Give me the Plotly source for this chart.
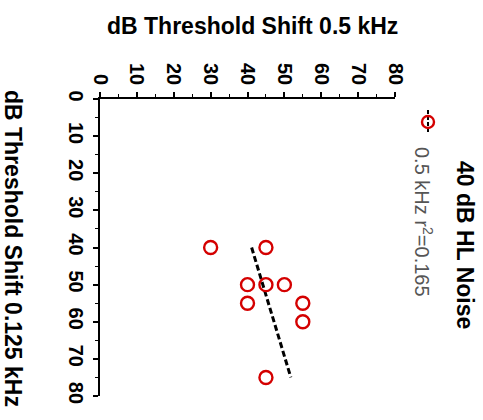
import numpy as np
import plotly.graph_objects as go

# Data: threshold shifts (dB) for 40 dB HL noise
thr_0125 = [40, 40, 50, 50, 50, 55, 55, 60, 75]   # 0.125 kHz (vertical axis)
thr_05 = [30, 45, 40, 45, 50, 40, 55, 55, 45]     # 0.5 kHz (horizontal axis)
tick_vals = [0, 10, 20, 30, 40, 50, 60, 70, 80]
legend_title = "40 dB HL Noise"
series_name = "0.5 kHz r<sup>2</sup>=0.165"

x = np.array(thr_0125, dtype=float)
y = np.array(thr_05, dtype=float)
slope, intercept = np.polyfit(x, y, 1)
fit_x = np.array([x.min(), x.max()])
fit_y = slope * fit_x + intercept

RED = "#d40000"
FONT = "Liberation Sans, Arial, sans-serif"

fig = go.Figure()
fig.add_trace(go.Scatter(
    x=fit_y, y=fit_x, mode="lines",
    line=dict(color="black", width=3, dash="6px,3px"),
    showlegend=False, hoverinfo="skip"))
fig.add_trace(go.Scatter(
    x=thr_05, y=thr_0125, mode="markers",
    marker=dict(symbol="circle-open", size=13, color=RED, line=dict(width=2.4, color=RED)),
    showlegend=False))

axis_common = dict(
    tickvals=tick_vals, ticktext=["<b>%d</b>" % v for v in tick_vals],
    showline=True, linecolor="black", linewidth=1.6,
    ticks="outside", ticklen=5, tickwidth=1.6, tickcolor="black",
    minor=dict(dtick=5, ticks="outside", ticklen=3, tickwidth=1.3, tickcolor="black"),
    showgrid=False, zeroline=False, tickangle=90,
    tickfont=dict(family=FONT, size=20, color="black"),
)
fig.update_xaxes(**axis_common)
fig.update_xaxes(range=[0, 80], side="top")
fig.update_yaxes(**axis_common)
fig.update_yaxes(range=[80, 0])

L, T, W, H = 100, 99, 295, 297
FW, FH = 483, 420

def px(xp, yp):
    return (xp - L) / W, (T + H - yp) / H

annotations = []
ax_, ay_ = px(252, 26)
annotations.append(dict(text="<b>dB Threshold Shift 0.5 kHz</b>", x=ax_, y=ay_, xref="paper", yref="paper",
                        showarrow=False, font=dict(family=FONT, size=23, color="black"),
                        xanchor="center", yanchor="middle"))
ax_, ay_ = px(13, 248)
annotations.append(dict(text="<b>dB Threshold Shift 0.125 kHz</b>", x=ax_, y=ay_, xref="paper", yref="paper",
                        showarrow=False, textangle=90, font=dict(family=FONT, size=23, color="black"),
                        xanchor="center", yanchor="middle"))
ax_, ay_ = px(465, 245)
annotations.append(dict(text="<b>" + legend_title + "</b>", x=ax_, y=ay_, xref="paper", yref="paper",
                        showarrow=False, textangle=90, font=dict(family=FONT, size=23, color="black"),
                        xanchor="center", yanchor="middle"))
ax_, ay_ = px(424, 222)
annotations.append(dict(text=series_name, x=ax_, y=ay_, xref="paper", yref="paper",
                        showarrow=False, textangle=90, font=dict(family=FONT, size=20, color="#555555"),
                        xanchor="center", yanchor="middle"))

mx, my = px(428, 122)
shapes = [
    dict(type="line", xref="paper", yref="paper", x0=mx, x1=mx,
         y0=px(0, 110)[1], y1=px(0, 134)[1], line=dict(color="black", width=2, dash="4px,2px")),
    dict(type="circle", xref="paper", yref="paper", xsizemode="pixel", ysizemode="pixel",
         xanchor=mx, yanchor=my, x0=-6, x1=6, y0=-6, y1=6,
         line=dict(color=RED, width=2.4)),
]

fig.update_layout(
    width=FW, height=FH,
    margin=dict(l=L, r=FW - L - W, t=T, b=FH - T - H, pad=0),
    plot_bgcolor="white", paper_bgcolor="white",
    annotations=annotations, shapes=shapes,
    showlegend=False,
)

fig.write_html("out.html")
